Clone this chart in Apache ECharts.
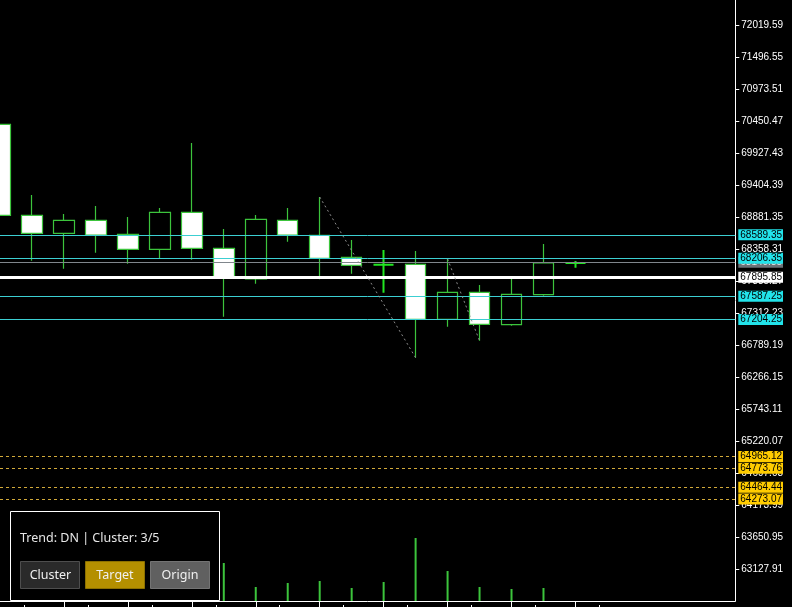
<!DOCTYPE html>
<html>
<head>
<meta charset="utf-8">
<script src="https://cdn.jsdelivr.net/npm/echarts@6/dist/echarts.min.js"></script>
<style>
html,body{margin:0;padding:0;background:#000;}
#chart{width:792px;height:607px;}
</style>
</head>
<body>
<div id="chart"></div>
<script>
// ---- data ----
const categories = ['b01','b02','b03','b04','b05','b06','b07','b08','b09','b10','b11','b12',
  'b13','b14','b15','b16','b17','b18','b19','b20','b21','b22','b23','b24'];
const opens  = [70396.5,68909.1,68614.9,68827.4,68598.6,68353.4,68958.2,68369.8,67868.0,68827.4,68582.2,68222.6,68101.7,68108.2,67209.3,67650.6,67121.0,67611.4,68129.5];
const closes = [68909.1,68614.9,68827.4,68587.1,68353.4,68958.2,68369.8,67900.7,68843.8,68587.1,68206.3,68091.9,68101.7,67209.3,67650.6,67127.5,67617.9,68129.5,68129.5];
const highs  = [70396.5,69240.9,68930.4,69061.2,68881.4,69028.5,70090.9,68685.2,68914.0,69028.5,69208.3,68505.4,68342.0,68325.6,68194.9,67769.9,67868.0,68440.0,68162.2];
const lows   = [68909.1,68167.1,68036.3,68297.8,68118.0,68206.3,68183.4,67251.8,67791.1,68477.6,67863.1,67954.6,67644.0,66581.6,67088.3,66859.5,67104.7,67595.0,68052.7];
const volumes = [null,1500,1200,1400,1300,1800,2600,3800,1400,1800,2000,1300,1900,6300,3000,1400,1200,1300,null];
const yTickLabels = [72019.59,71496.55,70973.51,70450.47,69927.43,69404.39,68881.35,68358.31,67835.27,
  67312.23,66789.19,66266.15,65743.11,65220.07,64697.03,64173.99,63650.95,63127.91];
const cyanLevels = [68589.35,68206.35,67587.25,67204.25];
const goldLevels = [64965.12,64773.76,64464.44,64273.07];
const grayLevel = 68140.85;
const priceLevel = 67895.85;
const zigzagSegments = [[10,13],[14,15]]; // from high of first bar to low of second bar
const longTickBars = [2,4,6,8,10,12,14,16,18];
const shortTickPos = [0.75,2.75,4.75,6.75,8.75,10.75,12.75,14.75,16.75,18.75];
const panelText = 'Trend: DN | Cluster: 3/5';
const buttons = ['Cluster','Target','Origin'];

// ---- build ----
const GREEN = '#3cc43c';
const candleData = opens.map((o,i) => {
  const v = [o, closes[i], lows[i], highs[i]];
  if (o === closes[i]) return {value: v, itemStyle: {borderColor: '#22e622', borderColor0: '#22e622', borderWidth: 2}};
  return v;
});
const AXFONT = '"Liberation Sans",Arial,sans-serif';
const AXSIZE = 10;
const boxLabel = (bg, fg) => ({
  show: true, position: 'end', distance: 3,
  formatter: p => Number(p.value).toFixed(2),
  backgroundColor: bg, color: fg, fontFamily: AXFONT, fontSize: AXSIZE,
  lineHeight: 11, padding: [0,1,0,2]
});
const markData = [];
markData.push({yAxis: grayLevel, lineStyle: {color: '#80868c', width: 1, type: 'solid'}, label: boxLabel('#6c7278', '#e8e8e8')});
cyanLevels.forEach(v => markData.push({yAxis: v, lineStyle: {color: '#3ccfd2', width: 1, type: 'solid'}, label: boxLabel('#22e3ea', '#000')}));
markData.push({yAxis: priceLevel, lineStyle: {color: '#ffffff', width: 3, type: 'solid'}, label: boxLabel('#ffffff', '#000')});
goldLevels.forEach(v => markData.push({yAxis: v, lineStyle: {color: '#d2aa3a', width: 1, type: [3,3]}, label: boxLabel('#ffcc00', '#000')}));

const zigSeries = zigzagSegments.map(([a,b]) => ({
  type: 'line', xAxisIndex: 0, yAxisIndex: 0, symbol: 'none', silent: true, z: 5,
  data: [[a, highs[a]], [b, lows[b]]],
  lineStyle: {color: '#8c8c8c', width: 1, type: [2,3]}
}));

const GRID_L = -0.7, GRID_W = 736;
const option = {
  backgroundColor: '#000000',
  animation: false,
  grid: {left: GRID_L, top: 0, width: GRID_W, height: 601, containLabel: false},
  xAxis: [{
    type: 'category', data: categories, boundaryGap: false,
    axisLine: {show: true, onZero: false, lineStyle: {color: '#ffffff', width: 1}},
    axisTick: {show: true, length: 6, interval: (i) => longTickBars.includes(i), lineStyle: {color: '#ffffff'}},
    axisLabel: {show: false}, splitLine: {show: false}
  }, {
    type: 'value', min: 0, max: categories.length - 1, position: 'bottom', offset: 4,
    axisLine: {show: false, onZero: false}, axisLabel: {show: false}, splitLine: {show: false},
    axisTick: {show: true, length: 3, customValues: shortTickPos, lineStyle: {color: '#ffffff'}}
  }],
  yAxis: [{
    type: 'value', position: 'right', min: 62604.9, max: 72428.2, scale: true,
    axisLine: {show: true, onZero: false, lineStyle: {color: '#ffffff', width: 1}},
    axisTick: {show: true, length: 4, customValues: yTickLabels, lineStyle: {color: '#ffffff'}},
    axisLabel: {show: true, customValues: yTickLabels, color: '#ffffff', fontFamily: AXFONT, fontSize: AXSIZE, margin: 6,
      formatter: v => Number(v).toFixed(2)},
    splitLine: {show: false}
  }, {
    type: 'value', min: 0, max: 60100, show: false, axisLine: {onZero: false}
  }],
  series: [{
    type: 'bar', xAxisIndex: 0, yAxisIndex: 1, data: volumes, barWidth: 2, silent: true, z: 1,
    itemStyle: {color: GREEN}
  }, {
    type: 'candlestick', xAxisIndex: 0, yAxisIndex: 0, data: candleData, barWidth: 21, clip: false, z: 3,
    itemStyle: {color: '#000000', color0: '#ffffff', borderColor: GREEN, borderColor0: GREEN, borderWidth: 1.2},
    markLine: {silent: true, symbol: ['none','none'], animation: false, data: markData}
  }].concat(zigSeries),
  graphic: [
    {type: 'rect', z: 100, shape: {x: 10.5, y: 511.5, width: 209, height: 89}, style: {fill: '#000', stroke: '#ffffff', lineWidth: 1}},
    {type: 'text', z: 101, style: {text: panelText, x: 20, y: 538, fill: '#e6e6e6', font: '12.5px "Noto Sans", sans-serif', textVerticalAlign: 'middle', textAlign: 'left'}},
    {type: 'rect', z: 101, shape: {x: 20.5, y: 561.5, width: 59, height: 27}, style: {fill: '#2a2a2a', stroke: '#4e4e4e', lineWidth: 1}},
    {type: 'rect', z: 101, shape: {x: 85.5, y: 561.5, width: 59, height: 27}, style: {fill: '#b48f00', stroke: '#8c7000', lineWidth: 1}},
    {type: 'rect', z: 101, shape: {x: 150.5, y: 561.5, width: 59, height: 27}, style: {fill: '#606060', stroke: '#747474', lineWidth: 1}},
    {type: 'text', z: 102, style: {text: buttons[0], x: 50.5, y: 575.5, fill: '#f0f0f0', font: '12.5px "Noto Sans", sans-serif', textAlign: 'center', textVerticalAlign: 'middle'}},
    {type: 'text', z: 102, style: {text: buttons[1], x: 115, y: 575.5, fill: '#f0f0f0', font: '12.5px "Noto Sans", sans-serif', textAlign: 'center', textVerticalAlign: 'middle'}},
    {type: 'text', z: 102, style: {text: buttons[2], x: 180, y: 575.5, fill: '#f0f0f0', font: '12.5px "Noto Sans", sans-serif', textAlign: 'center', textVerticalAlign: 'middle'}}
  ]
};
const chart = echarts.init(document.getElementById('chart'), null, {renderer: 'canvas'});
chart.setOption(option);
</script>
</body>
</html>
